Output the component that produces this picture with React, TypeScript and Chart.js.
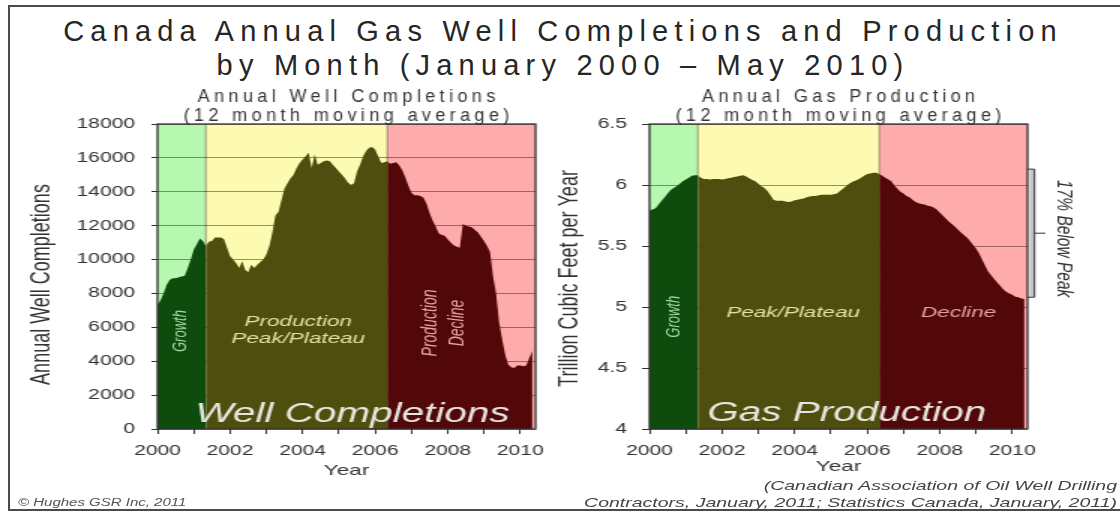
import React, { useEffect, useRef } from 'react';
import { Chart, registerables } from 'chart.js';

Chart.register(...registerables);

// ---------- data ----------
const START_YEAR = 2000; // first month = January 2000, one value per month
const X_MAX = 2010.42;
const YEAR_TICKS = [2000, 2001, 2002, 2003, 2004, 2005, 2006, 2007, 2008, 2009, 2010];
// month indices where the phases change: Growth | Peak/Plateau | Decline
const PHASE_MONTHS = [0, 16, 76, 124];

// Annual well completions (12 month moving average), Jan 2000 - May 2010
const WELL_COMPLETIONS = [
  7300, 7600, 8000, 8500, 8800, 8900, 8900, 8950, 9000, 9050,
  9500, 10000, 10600, 10900, 11250, 11100, 10800, 11050, 11100, 11300,
  11300, 11300, 11200, 10700, 10200, 10000, 9800, 9500, 9900, 9400,
  9250, 9700, 9500, 9700, 9850, 10000, 10300, 10800, 11600, 12600,
  12800, 13500, 14200, 14500, 14800, 15000, 15400, 15700, 15900, 16100,
  16300, 15400, 16200, 15600, 15700, 15800, 15850, 15800, 15600, 15400,
  15200, 15000, 14800, 14550, 14400, 14500, 15200, 15600, 16100, 16400,
  16600, 16650, 16500, 16100, 15700, 15750, 15800, 15650, 15700, 15750,
  15550, 15250, 14850, 14350, 13950, 13800, 13800, 13750, 13650, 13300,
  12750, 12300, 11950, 11550, 11450, 11400, 11200, 11000, 10850, 10750,
  10700, 12100, 12000, 11950, 11900, 11750, 11600, 11350, 11100, 10800,
  10450, 9000, 8000, 6300, 5300, 4400, 3800, 3650, 3600, 3750,
  3750, 3700, 3750, 4200, 4600,
];

// Annual gas production, trillion cubic feet per year (12 month moving average)
const GAS_PRODUCTION = [
  5.79, 5.80, 5.81, 5.84, 5.87, 5.90, 5.93, 5.96, 5.975, 5.99,
  6.01, 6.03, 6.045, 6.06, 6.075, 6.08, 6.08, 6.06, 6.05, 6.05,
  6.045, 6.05, 6.05, 6.05, 6.045, 6.05, 6.055, 6.06, 6.065, 6.07,
  6.075, 6.08, 6.07, 6.055, 6.04, 6.03, 6.01, 5.99, 5.975, 5.95,
  5.915, 5.88, 5.87, 5.87, 5.87, 5.865, 5.86, 5.865, 5.875, 5.88,
  5.885, 5.89, 5.90, 5.905, 5.91, 5.91, 5.915, 5.92, 5.92, 5.92,
  5.92, 5.925, 5.93, 5.95, 5.97, 5.99, 6.01, 6.025, 6.035, 6.045,
  6.06, 6.075, 6.09, 6.095, 6.10, 6.10, 6.09, 6.075, 6.06, 6.045,
  6.03, 5.995, 5.97, 5.945, 5.93, 5.91, 5.90, 5.88, 5.86, 5.85,
  5.845, 5.84, 5.83, 5.825, 5.815, 5.80, 5.775, 5.75, 5.725, 5.70,
  5.68, 5.66, 5.635, 5.61, 5.59, 5.57, 5.54, 5.51, 5.48, 5.44,
  5.39, 5.34, 5.29, 5.26, 5.23, 5.20, 5.175, 5.145, 5.125, 5.11,
  5.10, 5.085, 5.08, 5.07, 5.065,
];

const WELL_Y = { min: 0, max: 18000, step: 2000 };
const GAS_Y = { min: 4, max: 6.5, step: 0.5 };
const BRACKET_RANGE = [6.13, 5.08]; // "17% Below Peak"

const PHASE_BG = ['#b6f8b0', '#fdfbb2', '#fdabab'];
const PHASE_FILL = ['#0e4c0e', '#4e4e0e', '#520709'];

const FONT = 'Arial, "Liberation Sans", Helvetica, sans-serif';
const STRETCH = 1.5; // the picture is stretched horizontally
const U_WIDTH = 1120 / STRETCH;

type Note = {
  text: string;
  x: number;
  y: number;
  rotate?: number;
  font: string;
  color: string;
  baseline?: CanvasTextBaseline;
};

const WELL_NOTES: Note[] = [
  { text: 'Growth', x: 2000.63, y: 5780, rotate: -90, font: `italic 13px ${FONT}`, color: '#a9dca2' },
  { text: 'Production', x: 2003.88, y: 6315, font: `italic 15px ${FONT}`, color: '#e4e0a8' },
  { text: 'Peak/Plateau', x: 2003.88, y: 5310, font: `italic 15px ${FONT}`, color: '#e4e0a8' },
  { text: 'Production', x: 2007.51, y: 6256, rotate: -90, font: `italic 14px ${FONT}`, color: '#e8a2a6' },
  { text: 'Decline', x: 2008.28, y: 6256, rotate: -90, font: `italic 14px ${FONT}`, color: '#e8a2a6' },
  { text: 'Well Completions', x: 2005.375, y: 413, font: `italic 27px ${FONT}`, color: '#e6e6de', baseline: 'alphabetic' },
];

const GAS_NOTES: Note[] = [
  { text: 'Growth', x: 2000.69, y: 4.92, rotate: -90, font: `italic 13px ${FONT}`, color: '#a9dca2' },
  { text: 'Peak/Plateau', x: 2003.96, y: 4.95, font: `italic 15px ${FONT}`, color: '#e4e0a8' },
  { text: 'Decline', x: 2008.52, y: 4.95, font: `italic 15px ${FONT}`, color: '#e8a2a6' },
  { text: 'Gas Production', x: 2005.44, y: 4.066, font: `italic 27px ${FONT}`, color: '#e6e6de', baseline: 'alphabetic' },
];

type Spec = {
  values: number[];
  yr: { min: number; max: number; step: number };
  left: number;
  width: number;
  yAxisWidth: number;
  rightPad: number;
  tickLen: number;
  tickPad: number;
  title: string[];
  yTitle: string;
  yTitleDx: number;
  yTitleDy: number;
  xTitleY: number;
  notes: Note[];
  bracket?: boolean;
};

const SPECS: Spec[] = [
  {
    values: WELL_COMPLETIONS, yr: WELL_Y, left: 0, width: 373, yAxisWidth: 105, rightPad: 16,
    tickLen: 4, tickPad: 11,
    title: ['Annual Well Completions', '(12 month moving average)'],
    yTitle: 'Annual Well Completions', yTitleDx: -77, yTitleDy: 8, xTitleY: 471,
    notes: WELL_NOTES,
  },
  {
    values: GAS_PRODUCTION, yr: GAS_Y, left: 360, width: 387, yAxisWidth: 73, rightPad: 62,
    tickLen: 5, tickPad: 10,
    title: ['Annual Gas Production', '(12 month moving average)'],
    yTitle: 'Trillion Cubic Feet per Year', yTitleDx: -53, yTitleDy: 2, xTitleY: 467,
    notes: GAS_NOTES, bracket: true,
  },
];

// spacing: when given, the text is drawn without the horizontal stretch and with letter spacing instead
function drawText(
  ctx: CanvasRenderingContext2D, t: string, x: number, y: number, font: string, color: string,
  rotate = 0, baseline: CanvasTextBaseline = 'middle', spacing?: number,
) {
  ctx.save();
  ctx.translate(x, y);
  if (rotate) ctx.rotate((rotate * Math.PI) / 180);
  ctx.font = font;
  ctx.fillStyle = color;
  ctx.textAlign = 'center';
  ctx.textBaseline = baseline;
  let dx = 0;
  if (spacing !== undefined) {
    ctx.scale(1 / STRETCH, 1);
    (ctx as any).letterSpacing = `${spacing}px`;
    dx = spacing / 2;
  }
  ctx.fillText(t, dx, 0);
  ctx.restore();
}

function makeOverlay(spec: Spec) {
  const bounds = () => [START_YEAR + PHASE_MONTHS[1] / 12, START_YEAR + PHASE_MONTHS[2] / 12];
  return {
    id: 'phaseOverlay',
    beforeDraw(chart: any) {
      const { ctx, chartArea, scales } = chart;
      const { top, bottom } = chartArea;
      const edges = [scales.x.min, ...bounds(), scales.x.max];
      ctx.save();
      PHASE_BG.forEach((c, k) => {
        const x0 = scales.x.getPixelForValue(edges[k]);
        const x1 = scales.x.getPixelForValue(edges[k + 1]);
        ctx.fillStyle = c;
        ctx.fillRect(x0, top, x1 - x0, bottom - top);
      });
      ctx.restore();
    },
    beforeDatasetsDraw(chart: any) {
      const { ctx, chartArea, scales } = chart;
      ctx.save();
      ctx.strokeStyle = 'rgba(40,40,20,0.45)';
      ctx.lineWidth = 1;
      bounds().forEach((b) => {
        const x = scales.x.getPixelForValue(b);
        ctx.beginPath();
        ctx.moveTo(x, chartArea.top);
        ctx.lineTo(x, chartArea.bottom);
        ctx.stroke();
      });
      ctx.restore();
    },
    afterDraw(chart: any) {
      const { ctx, chartArea, scales } = chart;
      const { left, right, top, bottom } = chartArea;
      const cx = (left + right) / 2;
      const cy = (top + bottom) / 2;
      // plot frame
      ctx.save();
      ctx.strokeStyle = '#333';
      ctx.lineWidth = 1.3;
      ctx.strokeRect(left, top, right - left, bottom - top);
      ctx.restore();
      // phase labels
      spec.notes.forEach((n) => {
        drawText(ctx, n.text, scales.x.getPixelForValue(n.x), scales.y.getPixelForValue(n.y), n.font, n.color, n.rotate || 0, n.baseline || 'middle');
      });
      // titles
      drawText(ctx, spec.title[0], cx, 101.5, `18px ${FONT}`, '#333', 0, 'alphabetic', 4.4);
      drawText(ctx, spec.title[1], cx, 121, `18px ${FONT}`, '#333', 0, 'alphabetic', 4.4);
      drawText(ctx, spec.yTitle, left + spec.yTitleDx, cy + spec.yTitleDy, `18px ${FONT}`, '#333', -90);
      drawText(ctx, 'Year', cx, spec.xTitleY, `15px ${FONT}`, '#333');
      if (spec.bracket) {
        const yt = scales.y.getPixelForValue(BRACKET_RANGE[0]);
        const yb = scales.y.getPixelForValue(BRACKET_RANGE[1]);
        const ym = (yt + yb) / 2;
        ctx.save();
        ctx.fillStyle = '#c4c4c4';
        ctx.fillRect(right + 1.5, yt, 3, yb - yt);
        ctx.strokeStyle = '#333';
        ctx.lineWidth = 1;
        ctx.beginPath();
        ctx.moveTo(right, yt);
        ctx.lineTo(right + 4.7, yt);
        ctx.lineTo(right + 4.7, yb);
        ctx.lineTo(right, yb);
        ctx.moveTo(right + 4.7, ym);
        ctx.lineTo(right + 12, ym);
        ctx.stroke();
        ctx.restore();
        drawText(ctx, '17% Below Peak', right + 24, scales.y.getPixelForValue(5.56), `italic 15.5px ${FONT}`, '#333', 90);
      }
    },
  };
}

function buildConfig(spec: Spec): any {
  const points = spec.values.map((v, i) => ({ x: START_YEAR + i / 12, y: v }));
  const datasets = PHASE_FILL.map((color, k) => ({
    data: points.slice(PHASE_MONTHS[k], PHASE_MONTHS[k + 1] + 1),
    backgroundColor: color,
    borderWidth: 0,
    pointRadius: 0,
    fill: 'start',
    tension: 0,
  }));
  return {
    type: 'line',
    data: { datasets },
    plugins: [makeOverlay(spec)],
    options: {
      animation: false,
      responsive: false,
      events: [],
      layout: { padding: { top: 124, right: spec.rightPad, bottom: 0, left: 0 } },
      plugins: { legend: { display: false }, tooltip: { enabled: false }, title: { display: false } },
      scales: {
        x: {
          type: 'linear',
          min: START_YEAR,
          max: X_MAX,
          afterBuildTicks: (s: any) => {
            s.ticks = YEAR_TICKS.map((value) => ({ value }));
          },
          afterFit: (s: any) => {
            s.height = 83;
          },
          border: { display: false },
          grid: { drawOnChartArea: false, drawTicks: true, tickLength: 5, tickColor: '#333', lineWidth: 1 },
          ticks: {
            autoSkip: false,
            maxRotation: 0,
            minRotation: 0,
            padding: 9,
            color: '#333',
            font: { family: FONT, size: 14 },
            callback: (v: number) => (v % 2 === 0 ? String(v) : ''),
          },
        },
        y: {
          type: 'linear',
          min: spec.yr.min,
          max: spec.yr.max,
          afterFit: (s: any) => {
            s.width = spec.yAxisWidth;
          },
          border: { display: false },
          grid: { color: 'rgba(70,25,25,0.5)', lineWidth: 1, drawTicks: true, tickLength: spec.tickLen, tickColor: '#333' },
          ticks: {
            stepSize: spec.yr.step,
            padding: spec.tickPad,
            color: '#333',
            font: { family: FONT, size: 14 },
            callback: (v: number) => String(v),
          },
        },
      },
    },
  };
}

function PhaseChart({ spec }: { spec: Spec }) {
  const ref = useRef<HTMLCanvasElement>(null);
  useEffect(() => {
    if (!ref.current) return;
    const chart = new Chart(ref.current, buildConfig(spec));
    return () => chart.destroy();
  }, [spec]);
  return (
    <canvas
      ref={ref}
      width={spec.width}
      height={512}
      style={{ position: 'absolute', left: spec.left, top: 0, width: spec.width, height: 512 }}
    />
  );
}

export default function App() {
  return (
    <div style={{ position: 'absolute', left: 0, top: 0, width: 1120, height: 512, overflow: 'hidden', background: '#fff', fontFamily: FONT }}>
      <div
        style={{
          position: 'absolute',
          left: 0,
          top: 14,
          width: 1120,
          paddingLeft: 6,
          boxSizing: 'border-box',
          textAlign: 'center',
          fontSize: 29,
          lineHeight: '34px',
          letterSpacing: '6.2px',
          color: '#262626',
          whiteSpace: 'nowrap',
        }}
      >
        <div>Canada Annual Gas Well Completions and Production</div>
        <div>by Month (January 2000 – May 2010)</div>
      </div>
      <div
        style={{
          position: 'absolute',
          left: 0,
          top: 0,
          width: U_WIDTH,
          height: 512,
          transform: `scaleX(${STRETCH})`,
          transformOrigin: '0 0',
        }}
      >
        {SPECS.map((s, i) => (
          <PhaseChart key={i} spec={s} />
        ))}
        <div
          style={{
            position: 'absolute',
            right: 2,
            top: 477,
            textAlign: 'right',
            fontSize: 13,
            lineHeight: '17px',
            fontStyle: 'italic',
            color: '#444',
            whiteSpace: 'nowrap',
          }}
        >
          <div>(Canadian Association of Oil Well Drilling</div>
          <div>Contractors, January, 2011; Statistics Canada, January, 2011)</div>
        </div>
        <div
          style={{
            position: 'absolute',
            left: 12,
            top: 497,
            fontSize: 10,
            lineHeight: '12px',
            fontStyle: 'italic',
            color: '#555',
            whiteSpace: 'nowrap',
          }}
        >
          © Hughes GSR Inc, 2011
        </div>
      </div>
      <div
        style={{
          position: 'absolute',
          left: 8,
          top: 5,
          width: 1130,
          height: 506,
          border: '2px solid #4a4a4a',
          boxSizing: 'border-box',
          pointerEvents: 'none',
        }}
      />
    </div>
  );
}
